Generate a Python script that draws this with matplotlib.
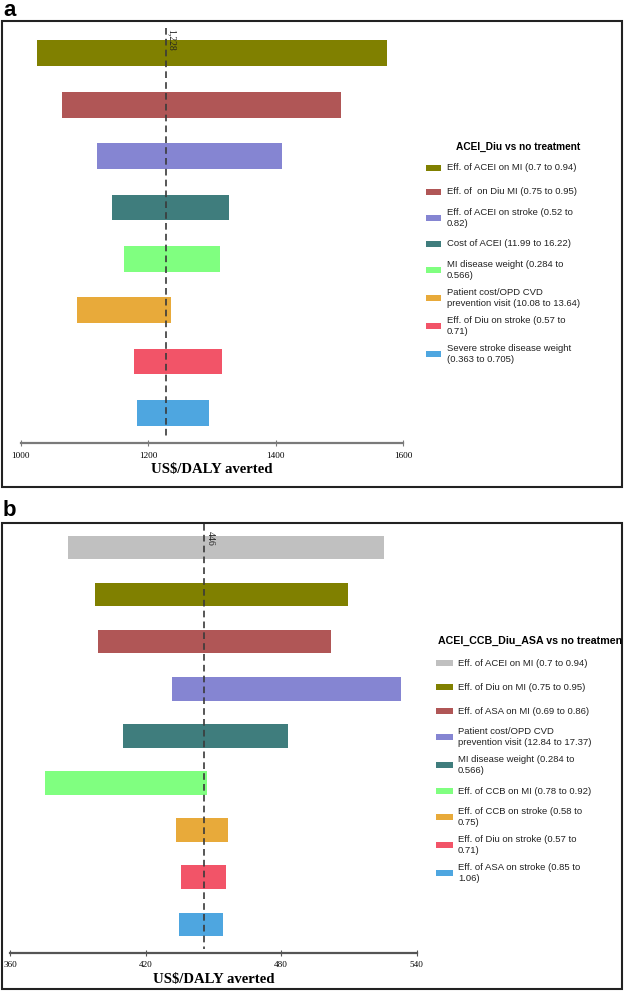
import matplotlib
matplotlib.use("Agg")
import matplotlib.pyplot as plt
from matplotlib.patches import Rectangle

W, H = 624, 992

serif = "Liberation Serif"
sans = "Liberation Sans"

# ---- panel a: ACEI_Diu vs no treatment ----
a_title = "ACEI_Diu vs no treatment"
a_base = 1228
a_labels = [
    "Eff. of ACEI on MI (0.7 to 0.94)",
    "Eff. of  on Diu MI (0.75 to 0.95)",
    "Eff. of ACEI on stroke (0.52 to\n0.82)",
    "Cost of ACEI (11.99 to 16.22)",
    "MI disease weight (0.284 to\n0.566)",
    "Patient cost/OPD CVD\nprevention visit (10.08 to 13.64)",
    "Eff. of Diu on stroke (0.57 to\n0.71)",
    "Severe stroke disease weight\n(0.363 to 0.705)",
]
a_low = [1026, 1065, 1119, 1143, 1162, 1089, 1178, 1182]
a_high = [1575, 1502, 1409, 1327, 1313, 1236, 1315, 1295]
a_colors = ["#808000", "#b05656", "#8585d2", "#3f7d7d", "#80ff80",
            "#e8aa3a", "#f25468", "#4ea6e0"]
a_ticks = [1000, 1200, 1400, 1600]

# ---- panel b: ACEI_CCB_Diu_ASA vs no treatment ----
b_title = "ACEI_CCB_Diu_ASA vs no treatment"
b_base = 446
b_labels = [
    "Eff. of ACEI on MI (0.7 to 0.94)",
    "Eff. of Diu on MI (0.75 to 0.95)",
    "Eff. of ASA on MI (0.69 to 0.86)",
    "Patient cost/OPD CVD\nprevention visit (12.84 to 17.37)",
    "MI disease weight (0.284 to\n0.566)",
    "Eff. of CCB on MI (0.78 to 0.92)",
    "Eff. of CCB on stroke (0.58 to\n0.75)",
    "Eff. of Diu on stroke (0.57 to\n0.71)",
    "Eff. of ASA on stroke (0.85 to\n1.06)",
]
b_low = [385.8, 397.5, 398.8, 431.7, 409.9, 375.5, 433.5, 435.8, 434.9]
b_high = [525.7, 509.5, 502.1, 533.2, 482.9, 447.2, 456.5, 455.4, 454.3]
b_colors = ["#c0c0c0", "#808000", "#b05656", "#8585d2", "#3f7d7d",
            "#80ff80", "#e8aa3a", "#f25468", "#4ea6e0"]
b_ticks = [360, 420, 480, 540]


def fx(px):
    return px / W


def fy(py):
    return 1 - py / H


def tornado(fig, box, first_px, row_px, low, high, colors, base, ticks, dash_px, axis_color):
    # box = (left, top, right, bottom) in pixels
    left, top, right, bottom = box
    ax = fig.add_axes([fx(left), fy(bottom), (right - left) / W, (bottom - top) / H])
    ypos = list(range(len(low)))
    widths = [h - l for l, h in zip(low, high)]
    ax.barh(ypos, widths, left=low, height=0.5, color=colors, edgecolor="none")
    ax.set_ylim((bottom - first_px) / row_px, (top - first_px) / row_px)
    ax.set_xlim(ticks[0], ticks[-1])

    d0 = (dash_px[0] - first_px) / row_px
    d1 = (dash_px[1] - first_px) / row_px
    ax.vlines(base, d0, d1, colors="#3a3a3a", linestyles=(0, (4, 2.5)), lw=1.2, zorder=3)
    ax.annotate("{:,}".format(base), xy=(base, 1), xycoords=("data", "axes fraction"),
                xytext=(0.8, -6), textcoords="offset points", rotation=270,
                ha="left", va="top", fontsize=7, family=serif, color="#222222")

    for s in ["top", "left", "right"]:
        ax.spines[s].set_visible(False)
    ax.spines["bottom"].set_color(axis_color)
    ax.spines["bottom"].set_linewidth(1.6)
    ax.set_yticks([])
    ax.set_xticks(ticks)
    ax.set_xticklabels([str(t) for t in ticks], family=serif, fontsize=6.6)
    ax.tick_params(axis="x", direction="inout", length=4.5, width=0.8,
                   color=axis_color, pad=4.0)
    ax.set_xlabel("US$/DALY averted", family=serif, fontsize=10.6,
                  fontweight="bold", labelpad=2.5)
    return ax


def side_legend(fig, frame, title, title_size, title_x, title_y, labels, colors,
                patch_x, patch_w, text_x, first_y):
    t = fig.text(fx(title_x), fy(title_y), title, family=sans, fontsize=title_size,
                 fontweight="bold", ha="left", va="center")
    t.set_clip_path(frame)
    y = first_y
    prev_n = None
    for lab, col in zip(labels, colors):
        n = lab.count("\n") + 1
        if prev_n is not None:
            y += 24 + 2 * (prev_n + n - 2)
        fig.add_artist(Rectangle((fx(patch_x), fy(y + 3)), patch_w / W, 6 / H,
                                 transform=fig.transFigure, facecolor=col, edgecolor="none"))
        fig.text(fx(text_x), fy(y), lab, family=sans, fontsize=6.8, ha="left",
                 va="center", linespacing=1.3, color="#222222")
        prev_n = n


fig = plt.figure(figsize=(W / 100, H / 100), dpi=100)

# outer frames
frame_a = Rectangle((fx(1.7), fy(486.7)), 620 / W, (486.7 - 20.7) / H,
                    transform=fig.transFigure, fill=False, lw=1.5, ec="#222222")
frame_b = Rectangle((fx(1.7), fy(989)), 620.5 / W, (989 - 522.7) / H,
                    transform=fig.transFigure, fill=False, lw=1.5, ec="#222222")
fig.add_artist(frame_a)
fig.add_artist(frame_b)

fig.text(fx(3), fy(15.5), "a", family=sans, fontsize=16, fontweight="bold",
         ha="left", va="baseline")
fig.text(fx(3), fy(516.5), "b", family=sans, fontsize=16, fontweight="bold",
         ha="left", va="baseline")

tornado(fig, (20.7, 20.7, 403.3, 443.3), 53.3, 51.36, a_low, a_high, a_colors,
        a_base, a_ticks, (28, 439), "#7a7a7a")
tornado(fig, (10, 522.7, 416.7, 952.7), 547.5, 47.1, b_low, b_high, b_colors,
        b_base, b_ticks, (524, 949.3), "#555555")

side_legend(fig, frame_a, a_title, 7.3, 456, 146.7, a_labels, a_colors, 426, 15, 446.7, 168)
side_legend(fig, frame_b, b_title, 7.7, 438, 640.7, b_labels, b_colors, 436, 17, 458, 663)

fig.savefig("out.png", dpi=100)
